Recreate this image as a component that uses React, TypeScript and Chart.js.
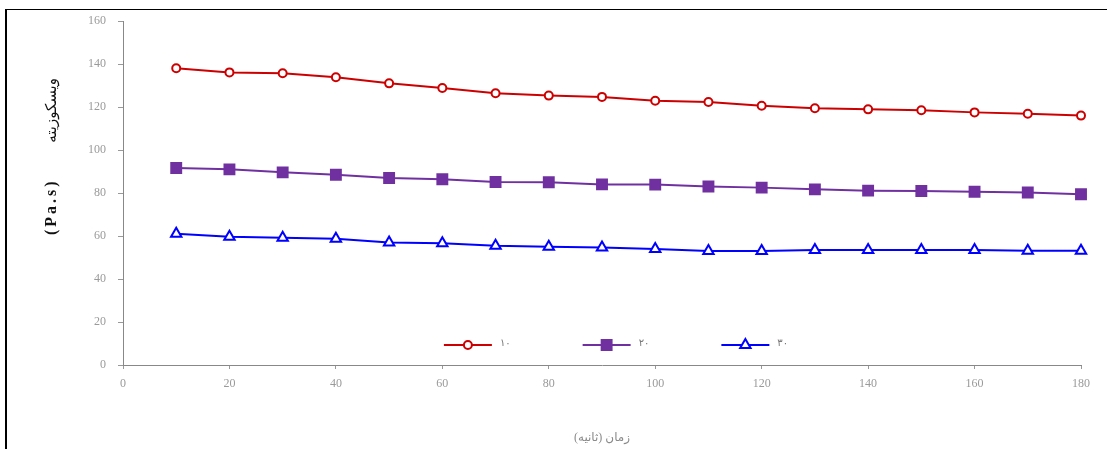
import React, { useEffect, useRef } from "react";
import { Chart, registerables } from "chart.js";

Chart.register(...registerables);

// Shear time (s) at which viscosity was sampled
const timeSeconds = [10, 20, 30, 40, 50, 60, 70, 80, 90, 100, 110, 120, 130, 140, 150, 160, 170, 180];

// Series names shown in the legend
const seriesNames = ["۱۰", "۲۰", "۳۰"];

// Viscosity (Pa.s) for each series
const viscosityA = [138.0, 136.1, 135.7, 133.8, 131.0, 128.8, 126.4, 125.3, 124.7, 122.9, 122.3, 120.6, 119.4, 118.9, 118.5, 117.5, 116.9, 116.0];
const viscosityB = [91.6, 91.0, 89.6, 88.5, 87.0, 86.4, 85.1, 85.0, 84.0, 83.9, 83.0, 82.5, 81.7, 81.1, 80.9, 80.6, 80.2, 79.4];
const viscosityC = [61.0, 59.7, 59.2, 58.7, 57.0, 56.6, 55.5, 55.0, 54.7, 54.0, 53.0, 53.0, 53.5, 53.5, 53.5, 53.5, 53.1, 53.1];

// Axis ranges and tick steps
const xRange = [0, 180];
const xStep = 20;
const yRange = [0, 160];
const yStep = 20;

// Axis titles
const xTitle = "\u202Bزمان (ثانیه)\u202C";
const yTitleWord = "\u202Bویسکوزیته\u202C";
const yTitleUnit = "(Pa.s)";

const SERIF = '"Liberation Serif", "DejaVu Serif", "DejaVu Sans", serif';

const colors = ["#CC0000", "#7030A0", "#0000FF"];
const pointStyles = ["circle", "rect", "triangle"] as const;
const pointRadii = [4, 7, 6];
const pointFills = ["#FFFFFF", "#7030A0", "#FFFFFF"];

function drawMarker(ctx: CanvasRenderingContext2D, style: string, r: number, x: number, y: number, stroke: string, fill: string) {
  ctx.save();
  ctx.lineWidth = 2;
  ctx.strokeStyle = stroke;
  ctx.fillStyle = fill;
  ctx.beginPath();
  if (style === "circle") {
    ctx.arc(x, y, r, 0, Math.PI * 2);
  } else if (style === "rect") {
    const s = Math.SQRT1_2 * r;
    ctx.rect(x - s, y - s, 2 * s, 2 * s);
  } else {
    const step = (Math.PI * 2) / 3;
    for (let k = 0; k < 3; k++) {
      const a = k * step;
      const px = x + Math.sin(a) * r;
      const py = y - Math.cos(a) * r;
      if (k === 0) ctx.moveTo(px, py);
      else ctx.lineTo(px, py);
    }
    ctx.closePath();
  }
  ctx.fill();
  ctx.stroke();
  ctx.restore();
}

// Draws the rotated y title and the in-plot legend
const decorations = {
  id: "decorations",
  afterDraw(chart: any) {
    const { ctx, chartArea } = chart;
    const h = chartArea.bottom - chartArea.top;
    const tx = chartArea.left - 71;

    // y-axis title: unit below, word above (reading bottom to top)
    ctx.save();
    ctx.fillStyle = "#111";
    ctx.textAlign = "center";
    ctx.textBaseline = "middle";
    ctx.translate(tx, chartArea.top + h * 0.54);
    ctx.rotate(-Math.PI / 2);
    ctx.font = `bold 16px ${SERIF}`;
    (ctx as any).letterSpacing = "3px";
    ctx.fillText(yTitleUnit, 0, 0);
    ctx.restore();

    ctx.save();
    ctx.fillStyle = "#111";
    ctx.textAlign = "center";
    ctx.textBaseline = "middle";
    ctx.translate(tx, chartArea.top + h * 0.26);
    ctx.rotate(-Math.PI / 2);
    ctx.font = `15px ${SERIF}`;
    ctx.fillText(yTitleWord, 0, 0);
    ctx.restore();

    // legend inside the plot area, just above the x axis
    ctx.save();
    ctx.font = `10px ${SERIF}`;
    const lineLen = 48;
    const gap = 8;
    const spacing = 72;
    const widths = seriesNames.map((n) => lineLen + gap + ctx.measureText(n).width + spacing);
    const total = widths.reduce((a, b) => a + b, 0) - spacing;
    const cx = (chartArea.left + chartArea.right) / 2;
    let x = cx - total / 2 + 14;
    const y = chartArea.bottom - 20;
    chart.data.datasets.forEach((_ds: any, i: number) => {
      ctx.strokeStyle = colors[i];
      ctx.lineWidth = 2;
      ctx.beginPath();
      ctx.moveTo(x, y);
      ctx.lineTo(x + lineLen, y);
      ctx.stroke();
      drawMarker(ctx, pointStyles[i], pointRadii[i], x + lineLen / 2, y, colors[i], pointFills[i]);
      ctx.fillStyle = "#777";
      ctx.textAlign = "left";
      ctx.textBaseline = "middle";
      ctx.fillText(seriesNames[i], x + lineLen + gap, y - 2);
      x += widths[i];
    });
    ctx.restore();
  },
};

export default function App() {
  const canvasRef = useRef<HTMLCanvasElement | null>(null);

  useEffect(() => {
    if (!canvasRef.current) return;
    const series = [viscosityA, viscosityB, viscosityC];
    const chart = new Chart(canvasRef.current, {
      type: "line",
      data: {
        datasets: series.map((vals, i) => ({
          label: seriesNames[i],
          data: timeSeconds.map((t, j) => ({ x: t, y: vals[j] })),
          borderColor: colors[i],
          backgroundColor: pointFills[i],
          borderWidth: 2,
          pointStyle: pointStyles[i],
          pointRadius: pointRadii[i],
          pointBorderWidth: 2,
          pointBorderColor: colors[i],
          pointBackgroundColor: pointFills[i],
          tension: 0,
          fill: false,
          clip: false,
        })),
      },
      options: {
        animation: false,
        responsive: true,
        maintainAspectRatio: false,
        layout: { padding: { top: 21, right: 26, left: 0, bottom: 0 } },
        plugins: {
          legend: { display: false },
          tooltip: { enabled: false },
        },
        scales: {
          x: {
            type: "linear",
            min: xRange[0],
            max: xRange[1],
            afterFit: (s: any) => {
              s.height = 84;
            },
            ticks: {
              stepSize: xStep,
              color: "#9a9a9a",
              font: { family: SERIF, size: 12 },
              padding: 8,
              maxRotation: 0,
            },
            grid: {
              drawOnChartArea: false,
              drawTicks: true,
              tickLength: 4,
              color: "#999",
            },
            border: { display: true, color: "#888", dash: [1, 2], width: 1 },
            title: {
              display: true,
              text: xTitle,
              color: "#8a8a8a",
              font: { family: SERIF, size: 12 },
              padding: { top: 0, bottom: 4 },
            },
          },
          y: {
            min: yRange[0],
            max: yRange[1],
            afterFit: (s: any) => {
              s.width = 123;
            },
            ticks: {
              stepSize: yStep,
              color: "#9a9a9a",
              font: { family: SERIF, size: 12 },
              padding: 12,
            },
            grid: {
              drawOnChartArea: false,
              drawTicks: true,
              tickLength: 5,
              color: "#999",
            },
            border: { display: true, color: "#888", dash: [1, 2], width: 1 },
          },
        },
      },
      plugins: [decorations],
    });
    return () => chart.destroy();
  }, []);

  return (
    <div style={{ position: "fixed", left: 0, top: 0, width: 1107, height: 449, background: "#fff", overflow: "hidden" }}>
      <div
        style={{
          position: "absolute",
          left: 5,
          top: 9,
          width: 1200,
          height: 600,
          borderLeft: "2px solid #000",
          borderTop: "1px solid #000",
        }}
      />
      <canvas ref={canvasRef} style={{ position: "absolute", left: 0, top: 0 }} />
    </div>
  );
}
